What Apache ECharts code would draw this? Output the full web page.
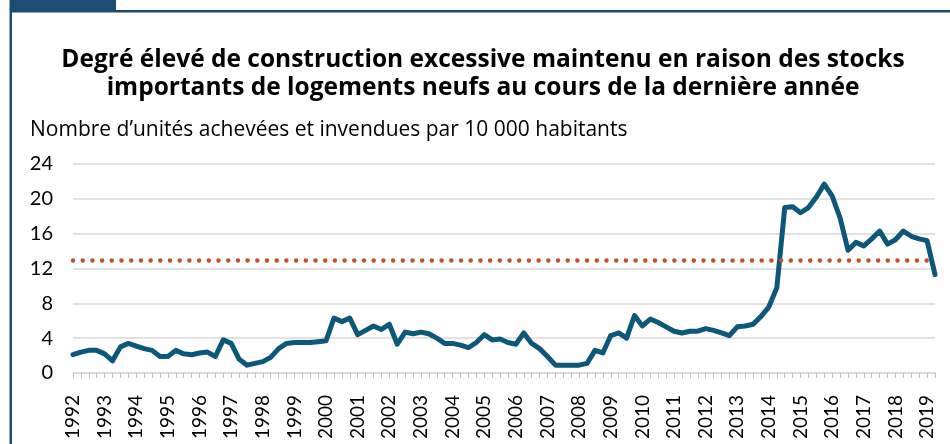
<!DOCTYPE html>
<html>
<head>
<meta charset="utf-8">
<script src="https://cdn.jsdelivr.net/npm/echarts@6/dist/echarts.min.js"></script>
<style>
  html, body { margin: 0; padding: 0; background: #fff; }
  #main { width: 950px; height: 444px; }
</style>
</head>
<body>
<div id="main"></div>
<script>
// années affichées sur l'axe (une étiquette par 1er trimestre)
var annees = [1992, 1993, 1994, 1995, 1996, 1997, 1998, 1999, 2000, 2001, 2002, 2003, 2004, 2005,
              2006, 2007, 2008, 2009, 2010, 2011, 2012, 2013, 2014, 2015, 2016, 2017, 2018, 2019];

// unités achevées et invendues pour 10 000 habitants, trimestriel 1992T1 - 2019T2
var invendus = [
  2.1, 2.4, 2.6, 2.6,   2.2, 1.4, 3.0, 3.4,   3.1, 2.8, 2.6, 1.9,   1.9, 2.6, 2.2, 2.1,
  2.3, 2.4, 1.9, 3.8,   3.4, 1.6, 0.9, 1.1,   1.3, 1.8, 2.8, 3.4,   3.5, 3.5, 3.5, 3.6,
  3.7, 6.3, 5.9, 6.3,   4.4, 4.9, 5.4, 5.0,   5.6, 3.3, 4.7, 4.5,   4.7, 4.5, 4.0, 3.4,
  3.4, 3.2, 2.9, 3.5,   4.4, 3.8, 3.9, 3.5,   3.3, 4.6, 3.4, 2.8,   1.9, 0.9, 0.9, 0.9,
  0.9, 1.1, 2.6, 2.3,   4.3, 4.6, 4.0, 6.6,   5.4, 6.2, 5.8, 5.3,   4.8, 4.6, 4.8, 4.8,
  5.1, 4.9, 4.6, 4.3,   5.3, 5.4, 5.6, 6.5,   7.6, 9.8, 19.0, 19.1, 18.4, 19.0, 20.2, 21.7,
  20.3, 17.8, 14.1, 15.0, 14.6, 15.4, 16.3, 14.8, 15.3, 16.3, 15.7, 15.4, 15.2, 11.3
];

// seuil de construction excessive
var seuil = 13;

var yTicks = [0, 4, 8, 12, 16, 20, 24];

var trimestres = [];
for (var a = 0; a < annees.length; a++) {
    for (var q = 1; q <= 4; q++) {
        if (trimestres.length < invendus.length) trimestres.push(annees[a] + 'T' + q);
    }
}

var police = 'Lato, "Open Sans", sans-serif';
var policeTitre = '"Open Sans", Lato, sans-serif';
var bleuCadre = '#1b4d71';

var myChart = echarts.init(document.getElementById('main'));
var option = {
    animation: false,
    backgroundColor: '#fff',
    textStyle: { fontFamily: police },
    graphic: [
        // onglet + cadre
        { type: 'rect', shape: { x: 10, y: 0, width: 106, height: 11 }, style: { fill: bleuCadre } },
        { type: 'rect', shape: { x: 10, y: 10, width: 940, height: 2.5 }, style: { fill: bleuCadre } },
        { type: 'rect', shape: { x: 9.5, y: 0, width: 2.5, height: 444 }, style: { fill: bleuCadre } }
    ],
    title: [
        {
            text: 'Degré élevé de construction excessive maintenu en raison des stocks\nimportants de logements neufs au cours de la dernière année',
            left: 483,
            top: 46,
            padding: 0,
            textAlign: 'center',
            textStyle: { fontFamily: policeTitre, fontWeight: 'bold', fontSize: 24.5, lineHeight: 28, color: '#000' }
        },
        {
            text: 'Nombre d’unités achevées et invendues par 10 000 habitants',
            left: 30,
            top: 120,
            padding: 0,
            textStyle: { fontFamily: policeTitre, fontWeight: 'normal', fontSize: 21, color: '#000' }
        }
    ],
    grid: { left: 73, right: 15, top: 164, bottom: 71, containLabel: false },
    xAxis: {
        type: 'category',
        data: trimestres,
        boundaryGap: false,
        axisLine: { lineStyle: { color: '#d9d9d9', width: 1.5 } },
        axisTick: { show: true, interval: 0, length: 5, lineStyle: { color: '#bfbfbf', width: 1 } },
        axisLabel: {
            interval: 3,
            rotate: 90,
            margin: 22,
            fontSize: 19,
            color: '#000',
            fontFamily: police,
            formatter: function (v) { return v.slice(0, 4); }
        },
        splitLine: { show: false }
    },
    yAxis: {
        type: 'value',
        min: yTicks[0],
        max: yTicks[yTicks.length - 1],
        interval: 4,
        axisLine: { show: false },
        axisTick: { show: false },
        axisLabel: { margin: 20, fontSize: 20, color: '#000', fontFamily: police },
        splitLine: { lineStyle: { color: '#d9d9d9', width: 1.5 } }
    },
    series: [
        {
            name: 'Invendus',
            type: 'line',
            data: invendus,
            symbol: 'none',
            lineStyle: { color: '#0d5878', width: 5, join: 'round', cap: 'round' },
            z: 3,
            markLine: {
                silent: true,
                symbol: 'none',
                label: { show: false },
                lineStyle: { color: '#c0502a', width: 4.5, type: [0, 9.7], cap: 'round' },
                data: [{ yAxis: seuil }]
            }
        }
    ]
};
myChart.setOption(option);
</script>
</body>
</html>
